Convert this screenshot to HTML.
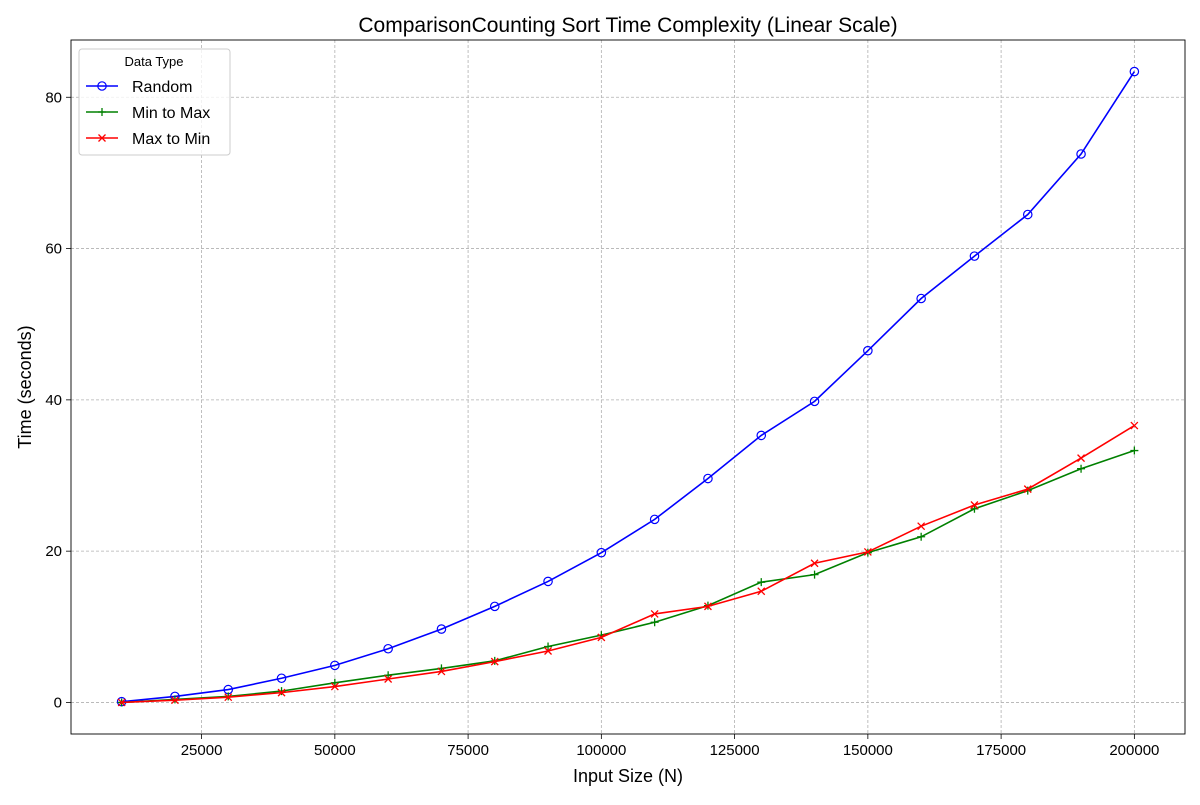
<!DOCTYPE html>
<html><head><meta charset="utf-8"><style>
html,body{margin:0;padding:0;background:#fff;}
svg text{font-family:"Liberation Sans","DejaVu Sans",sans-serif;}
</style></head><body>
<svg id="chart" width="1200" height="800" xmlns="http://www.w3.org/2000/svg"></svg>
<script>
const sizes=[10000,20000,30000,40000,50000,60000,70000,80000,90000,100000,110000,120000,130000,140000,150000,160000,170000,180000,190000,200000];
const randomTimes=[0.1,0.8,1.7,3.2,4.9,7.1,9.7,12.7,16.0,19.8,24.2,29.6,35.3,39.8,46.5,53.4,59.0,64.5,72.5,83.4];
const minToMaxTimes=[0.0,0.4,0.8,1.5,2.6,3.6,4.5,5.5,7.4,8.9,10.6,12.8,15.9,16.9,19.8,21.9,25.6,28.0,30.9,33.3];
const maxToMinTimes=[0.0,0.3,0.7,1.3,2.1,3.1,4.1,5.4,6.8,8.6,11.7,12.7,14.7,18.4,19.9,23.3,26.1,28.2,32.3,36.6];
const xTicks=[25000,50000,75000,100000,125000,150000,175000,200000];
const yTicks=[0,20,40,60,80];

const svg=document.getElementById('chart');
const NS='http://www.w3.org/2000/svg';
const L=71,R=1185,T=40,B=734;
const xMin=500,xMax=209500,yMin=-4.17,yMax=87.57;
const xs=v=>L+(v-xMin)/(xMax-xMin)*(R-L);
const ys=v=>B-(v-yMin)/(yMax-yMin)*(B-T);
function mk(tag,attrs,parent){const e=document.createElementNS(NS,tag);for(const k in attrs)e.setAttribute(k,attrs[k]);(parent||svg).appendChild(e);return e;}

const grid=mk('g',{});


xTicks.forEach(t=>{
  const x=xs(t);
  mk('line',{x1:x,x2:x,y1:T,y2:B,stroke:'#b0b0b0','stroke-dasharray':'3,2','stroke-width':0.8},grid);
  mk('line',{x1:x,x2:x,y1:B,y2:B+5,stroke:'#000','stroke-width':0.8});
  const tx=mk('text',{x:x,y:B+21,'text-anchor':'middle','font-size':15});
  
  
  tx.textContent=t;
});
yTicks.forEach(t=>{
  const y=ys(t);
  mk('line',{x1:L,x2:R,y1:y,y2:y,stroke:'#b0b0b0','stroke-dasharray':'3,2','stroke-width':0.8},grid);
  mk('line',{x1:L-5,x2:L,y1:y,y2:y,stroke:'#000','stroke-width':0.8});
  const tx=mk('text',{x:L-9,y:y+5,'text-anchor':'end','font-size':15});
  
  
  tx.textContent=t;
});

function series(vals,color,marker,name){
  const g=mk('g',{});
  
  
  mk('polyline',{points:sizes.map((s,i)=>xs(s)+','+ys(vals[i])).join(' '),fill:'none',stroke:color,'stroke-width':1.6},g);
  sizes.forEach((s,i)=>drawMarker(g,xs(s),ys(vals[i]),color,marker));
}
function drawMarker(g,x,y,color,marker){
  if(marker==='o')mk('circle',{cx:x,cy:y,r:4.2,fill:'none',stroke:color,'stroke-width':1.2},g);
  else if(marker==='+'){mk('path',{d:`M${x-4} ${y}H${x+4}M${x} ${y-4}V${y+4}`,stroke:color,'stroke-width':1.3},g);}
  else mk('path',{d:`M${x-3.5} ${y-3.5}L${x+3.5} ${y+3.5}M${x-3.5} ${y+3.5}L${x+3.5} ${y-3.5}`,stroke:color,'stroke-width':1.3},g);
}
series(randomTimes,'#0000ff','o','series-random');
series(minToMaxTimes,'#008000','+','series-min-to-max');
series(maxToMinTimes,'#ff0000','x','series-max-to-min');

const frame=mk('rect',{x:L,y:T,width:R-L,height:B-T,fill:'none',stroke:'#000','stroke-width':0.9});



const title=mk('text',{x:628,y:32,'text-anchor':'middle','font-size':21});


title.textContent='ComparisonCounting Sort Time Complexity (Linear Scale)';
const xt=mk('text',{x:628,y:782,'text-anchor':'middle','font-size':18});


xt.textContent='Input Size (N)';
const yt=mk('text',{x:0,y:0,'text-anchor':'middle','font-size':18,transform:'translate(31,387) rotate(-90)'});


yt.textContent='Time (seconds)';

const lg=mk('g',{});


mk('rect',{x:79,y:49,width:151,height:106,rx:3,fill:'#fff','fill-opacity':0.8,stroke:'#ccc'},lg);
const lt=mk('text',{x:154,y:66,'text-anchor':'middle','font-size':13},lg);
lt.textContent='Data Type';
[['Random','#0000ff','o'],['Min to Max','#008000','+'],['Max to Min','#ff0000','x']].forEach((d,i)=>{
  const y=86+i*26;
  const e=mk('g',{},lg);
  
  
  mk('line',{x1:86,x2:118,y1:y,y2:y,stroke:d[1],'stroke-width':1.6},e);
  drawMarker(e,102,y,d[1],d[2]);
  const t=mk('text',{x:132,y:y+6,'font-size':16},e);
  t.textContent=d[0];
});
</script>
</body></html>
